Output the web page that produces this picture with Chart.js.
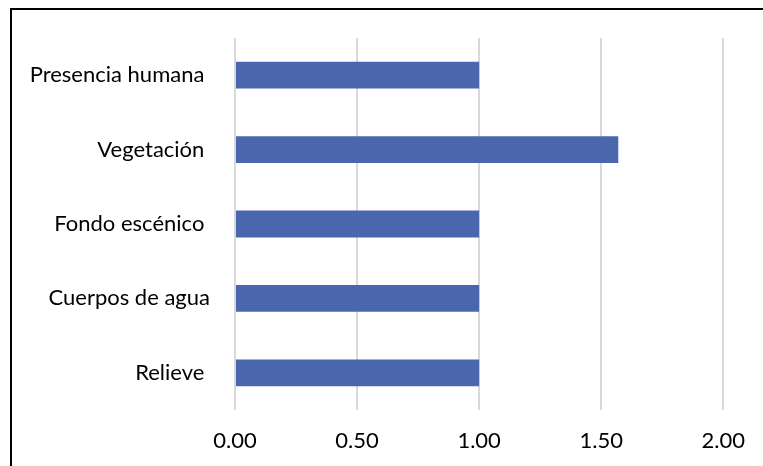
<!DOCTYPE html>
<html>
<head>
<meta charset="utf-8">
<script src="https://cdn.jsdelivr.net/npm/chart.js@4"></script>
<style>
  html, body { margin: 0; padding: 0; background: #fff; overflow: hidden; }
  #wrap { position: relative; width: 763px; height: 466px; overflow: hidden; }
  #frame { position: absolute; left: 10px; top: 8px; right: 0; bottom: 0; border-top: 2.5px solid #000; border-left: 2.5px solid #000; }
  canvas { position: absolute; left: 0; top: 0; }
</style>
</head>
<body>
<div id="wrap">
  <div id="frame"></div>
  <canvas id="chart" width="763" height="466"></canvas>
</div>
<script>
// categorias, de arriba hacia abajo
const categorias = ['Presencia humana ', 'Vegetación ', 'Fondo escénico ', 'Cuerpos de agua', 'Relieve '];
const valores = [1.00, 1.57, 1.00, 1.00, 1.00];
const ticksX = [0, 0.5, 1, 1.5, 2];

const fuente = { family: 'Lato, sans-serif', size: 22 };

const ctx = document.getElementById('chart').getContext('2d');
new Chart(ctx, {
  type: 'bar',
  data: {
    labels: categorias,
    datasets: [{
      data: valores,
      backgroundColor: '#4a66ac',
      borderWidth: 0,
      categoryPercentage: 1,
      barPercentage: 0.36,
    }],
  },
  options: {
    indexAxis: 'y',
    responsive: false,
    animation: false,
    layout: { padding: { left: 0, top: 38, right: 39, bottom: 0 } },
    plugins: { legend: { display: false }, tooltip: { enabled: false } },
    scales: {
      x: {
        min: ticksX[0],
        max: ticksX[ticksX.length - 1],
        afterBuildTicks: axis => { axis.ticks = ticksX.map(v => ({ value: v })); },
        afterFit: axis => { axis.height = 56; },
        grid: { color: '#d9d9d9', lineWidth: 2, drawTicks: false },
        border: { display: false },
        ticks: {
          color: '#000',
          font: fuente,
          padding: 18,
          callback: v => v.toFixed(2),
        },
      },
      y: {
        afterFit: axis => { axis.width = 235; },
        grid: { display: false },
        border: { display: false },
        ticks: { color: '#000', font: fuente, padding: 17 },
      },
    },
  },
});
</script>
</body>
</html>
